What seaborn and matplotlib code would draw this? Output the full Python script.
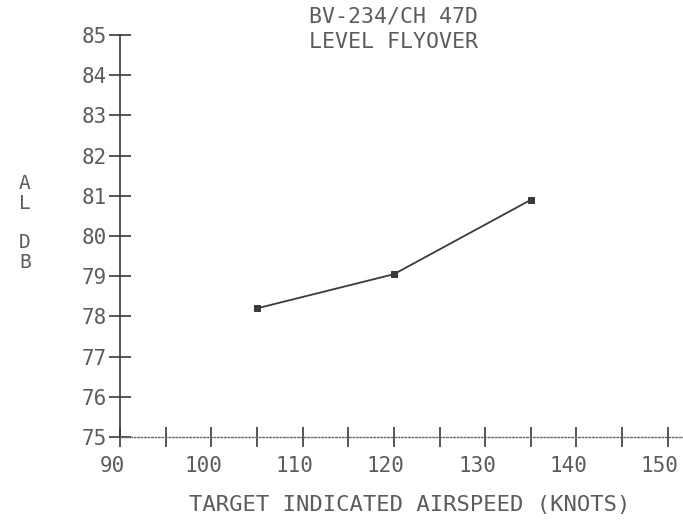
import numpy as np
import seaborn as sns
import matplotlib.pyplot as plt
from matplotlib.transforms import ScaledTranslation

# values
airspeed = [105, 120, 135]
level_db = [78.2, 79.05, 80.9]
x_major = [90, 100, 110, 120, 130, 140, 150]
x_minor = [95, 105, 115, 125, 135, 145]
y_ticks = [75, 76, 77, 78, 79, 80, 81, 82, 83, 84, 85]
title_lines = ["BV-234/CH 47D", "LEVEL FLYOVER"]
x_label = "TARGET INDICATED AIRSPEED (KNOTS)"
y_label = "A\nL\n\nD\nB"

sns.set_theme(style="white")
plt.rcParams['font.family'] = ['DejaVu Sans Mono']

ink = '#3a3a3a'
text_ink = '#5c5c5c'

fig = plt.figure(figsize=(6.83, 5.23), dpi=100)
ax = fig.add_axes([120 / 683, 86 / 523, 563 / 683, 402 / 523])

sns.lineplot(x=airspeed, y=level_db, marker='s', markersize=4, color=ink,
             linewidth=1.3, markeredgecolor=ink, ax=ax)

ax.set_xlim(90, 90 + 563 / 9.13)
ax.set_ylim(75, 85)
ax.set_xticks(x_major)
ax.set_xticks(x_minor, minor=True)
ax.set_yticks(y_ticks)
ax.set_xticklabels([str(v) for v in x_major])
ax.set_yticklabels([str(v) for v in y_ticks])

for side in ['top', 'right']:
    ax.spines[side].set_visible(False)
ax.spines['left'].set_color(ink)
ax.spines['left'].set_linewidth(1.2)
ax.spines['bottom'].set_color('#666666')
ax.spines['bottom'].set_linewidth(1.0)
ax.spines['bottom'].set_linestyle((0, (1, 1.5)))

ax.tick_params(axis='x', which='both', direction='inout', length=14, width=1.2,
               color=ink, labelcolor=text_ink, labelsize=15, pad=7, bottom=True)
ax.tick_params(axis='y', direction='inout', length=16, width=1.2,
               color=ink, labelcolor=text_ink, labelsize=15, pad=1.5, left=True)

# the plotter printed its x labels a little left of the ticks
shift = ScaledTranslation(-8 / 100, 0, fig.dpi_scale_trans)
for lbl in ax.get_xticklabels():
    lbl.set_transform(lbl.get_transform() + shift)

fig.text(393 / 683, 1 - 17 / 523, title_lines[0], ha='center', va='center',
         fontsize=15.5, color=text_ink)
fig.text(393 / 683, 1 - 42 / 523, title_lines[1], ha='center', va='center',
         fontsize=15.5, color=text_ink)
fig.text(25 / 683, 1 - 223 / 523, y_label, ha='center', va='center',
         fontsize=14, linespacing=1.05, color=text_ink)
fig.text(410 / 683, 1 - 505 / 523, x_label, ha='center', va='center',
         fontsize=16, color=text_ink)

fig.savefig('out.png', dpi=100)
